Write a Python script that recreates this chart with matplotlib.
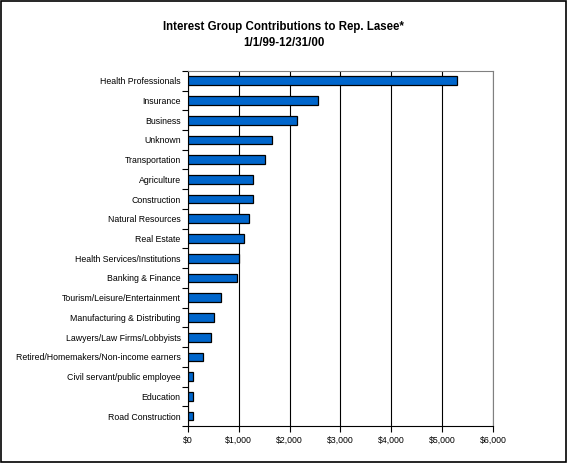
import matplotlib.pyplot as plt
import numpy as np
from matplotlib.ticker import FuncFormatter, FixedLocator

plt.rcParams['font.family'] = ['Liberation Sans', 'DejaVu Sans']

# Contribution totals by interest group (top to bottom as shown)
categories = [
    "Health Professionals", "Insurance", "Business", "Unknown", "Transportation",
    "Agriculture", "Construction", "Natural Resources", "Real Estate",
    "Health Services/Institutions", "Banking & Finance", "Tourism/Leisure/Entertainment",
    "Manufacturing & Distributing", "Lawyers/Law Firms/Lobbyists",
    "Retired/Homemakers/Non-income earners", "Civil servant/public employee",
    "Education", "Road Construction",
]
amounts = [5280, 2550, 2150, 1650, 1520, 1280, 1280, 1200, 1100,
           1000, 960, 650, 510, 450, 300, 110, 110, 110]
x_ticks = [0, 1000, 2000, 3000, 4000, 5000, 6000]

fig = plt.figure(figsize=(5.67, 4.63), dpi=100)
ax = fig.add_axes([0.331, 0.080, 0.539, 0.767])

y = np.arange(len(categories))
ax.barh(y, amounts, height=0.44, color='#0066CC', edgecolor='black', linewidth=0.9, zorder=3)

ax.set_xlim(0, 6000)
ax.set_ylim(len(categories) - 0.5, -0.5)
ax.set_xticks(x_ticks)
ax.xaxis.set_major_formatter(FuncFormatter(lambda v, p: "${:,.0f}".format(v)))
ax.set_yticks(y)
ax.set_yticklabels(categories)
ax.yaxis.set_minor_locator(FixedLocator(np.arange(-0.5, len(categories), 1)))

ax.tick_params(axis='y', which='major', length=0, labelsize=6.3, pad=5)
ax.tick_params(axis='y', which='minor', length=4, width=0.8, direction='out')
ax.tick_params(axis='x', which='major', length=4, width=0.8, labelsize=6.3, pad=3)

ax.grid(axis='x', color='black', linewidth=0.8, zorder=0)
ax.spines['left'].set_color('black')
ax.spines['bottom'].set_color('black')
ax.spines['top'].set_color('#808080')
ax.spines['right'].set_color('#808080')
for s in ax.spines.values():
    s.set_linewidth(0.8)

fig.text(0.5, 0.942, "Interest Group Contributions to Rep. Lasee*", ha='center', va='center',
         fontsize=8.3, fontweight='bold')
fig.text(0.5, 0.907, "1/1/99-12/31/00", ha='center', va='center',
         fontsize=8.3, fontweight='bold')

# outer frame
fig.patches.append(plt.Rectangle((0.002, 0.002), 0.996, 0.996, transform=fig.transFigure,
                                 fill=False, edgecolor='black', linewidth=1.2))

fig.savefig("out.png", dpi=100)
